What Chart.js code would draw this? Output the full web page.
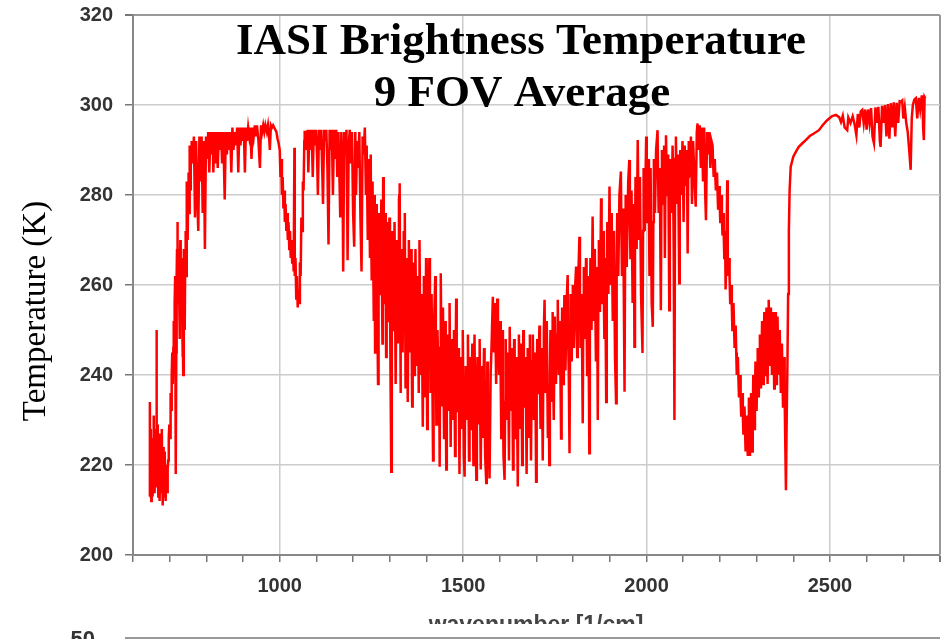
<!DOCTYPE html>
<html>
<head>
<meta charset="utf-8">
<script src="https://cdn.jsdelivr.net/npm/chart.js@4/dist/chart.umd.min.js"></script>
<style>
  html, body { margin: 0; padding: 0; background: #ffffff; }
  #wrap { width: 946px; height: 639px; position: relative; }
</style>
</head>
<body>
<div id="wrap"><canvas id="c" width="946" height="639"></canvas></div>
<script>
// ---- Data: [wavenumber (1/cm), brightness temperature (K)] ----
const co2Band15um = [
  [645,213],[646,234],[647,214],[648,224],[649,228],[650,212],[651,220],[652,226],[653,216],[654,213],
  [655,222],[656,231],[657,220],[658,214],[659,222],[660,228],[661,219],[662,215],[663,226],[664,250],
  [665,218],[666,224],[667,229],[668,220],[669,213],[670,222],[671,227],[672,218],[673,212],[674,220],
  [675,226],[676,219],[677,214],[678,222],[679,228],[680,218],[681,211],[682,219],[683,224],[684,218],
  [685,213],[686,219],[687,223],[688,216],[689,212],[690,217],[691,220],[692,216],[693,214],[694,217],
  [695,219],[696,221],[697,222],[698,226],[699,229],[700,227],[701,226],[702,232],[703,236],[704,234],
  [705,232],[706,240],[707,245],[708,241],[709,238],[710,246],[711,252],[712,249],[713,247],[714,256],
  [715,262],[716,240],[717,218],[718,245],[719,262],[720,268],[721,274],[722,264],[723,256],[724,262],
  [725,268],[726,257],[727,248],[728,260],[729,270],[730,260],[731,252],[732,259],[733,266],[734,254],
  [735,244],[736,250],[737,240],[738,256],[739,268],[740,258],[741,250],[742,262],[743,272],[744,266],
  [745,262],[746,274],[747,283],[748,276],[749,270],[750,278],[751,285],[752,280],[753,276],[754,284],
  [755,291],[756,286],[757,281],[758,286],[759,290]
];
const longwaveWindow = [
  [760,292],[763,287],[766,293],[769,275],[772,292],[775,280],[778,272],[781,293],[784,283],[787,293],
  [790,276],[793,292],[796,268],[799,293],[802,288],[805,294],[808,285],[811,294],[814,289],[817,294],
  [819,285],[822,294],[825,287],[828,294],[831,286],[834,294],[837,290],[840,294],[843,287],[846,294],
  [850,279],[853,294],[856,289],[859,294],[862,290],[865,294],[868,285],[871,295],[874,290],[877,294],
  [880,291],[884,295],[887,285],[890,295],[893,291],[896,295],[899,292],[902,295],[905,285],[908,295],
  [911,292],[914,295],[917,293],[920,295],[923,288],[926,295],[929,293],[932,295.5],[935,293],[938,295.5],
  [942,292],[946,286],[949,295.5],[952,294],[955,295.5],[958,294],[961,295.5],[965,294],[968,295.5],[971,293],
  [973,290],[976,295.5],[979,295],[982,295.5],[985,295],[988,294.5],[991,294],[994,292.5],[997,291.5],[1000,290]
];
const ozoneBand = [
  [1002,284],[1004,288],[1006,280],[1008,284],[1010,277],[1012,281],[1014,274],[1016,278],[1018,272],[1020,276],
  [1022,270],[1024,274],[1026,268],[1028,272],[1030,266],[1032,270],[1034,265],[1036,268],[1038,263],[1040,290.5],
  [1041,262],[1043,266],[1045,257],[1047,262],[1049,255],[1051,259],[1053,256],[1055,265],[1057,262],[1059,275],
  [1061,272],[1063,283],[1065,281],[1067,292],[1068,294]
];
const midWindow = [
  [1070,294],[1073,290],[1076,294.5],[1078,285],[1081,294.5],[1084,290],[1087,294.5],[1090,284],[1093,294.5],[1096,291],
  [1099,294.5],[1102,288],[1104,280],[1107,294.5],[1110,290],[1113,294.5],[1116,285],[1118,278],[1121,294.5],[1124,292],
  [1127,294.5],[1130,286],[1133,269],[1136,294.5],[1139,290],[1142,294.5],[1145,280],[1148,294.5],[1151,288],[1154,294.5],
  [1157,284],[1160,294],[1163,283],[1165,275],[1168,294],[1171,287],[1173,263],[1176,294],[1179,289],[1182,294.5],
  [1185,265.5],[1188,291],[1191,294.5],[1194,287],[1197,294],[1200,276],[1203,268.5],[1206,294],[1208,280],[1211,292],
  [1214,286],[1217,294],[1220,275],[1223,263],[1226,293],[1229,289],[1232,295]
];
const waterVaporBand = [
  [1235,280],[1236,286],[1237,291],[1238.5,280],[1240,270],[1241.5,279],[1243,288],[1244.5,277],[1246,266],[1247,278],
  [1248,289],[1249,275],[1250,261],[1251.5,272],[1253,283],[1254.5,268],[1256,252],[1257,266],[1258,280],[1259,262],
  [1260,245],[1261.5,262],[1263,278],[1264.5,266],[1266,255],[1267,246],[1268,238],[1269.5,258],[1271,276],[1272.5,266],
  [1274,258],[1275.5,268],[1277,279],[1278.5,262],[1280,247],[1281,266],[1282,284],[1283.5,270],[1285,256],[1286.5,266],
  [1288,276],[1289,260],[1290,244],[1291.5,260],[1293,274],[1294.5,262],[1296,252],[1297.5,264],[1299,275],[1300.5,258],
  [1302,240],[1303,230],[1304,218.5],[1305.5,250],[1307,272],[1308.5,260],[1310,250],[1311.5,262],[1313,274],[1314.5,256],
  [1316,238],[1317.5,254],[1319,270],[1320.5,258],[1322,247],[1323.5,263],[1325,279],[1326,280],[1327,282.6],[1328,260],
  [1329,236],[1330.5,252],[1332,268],[1333.5,256],[1335,245],[1336.5,258],[1338,272],[1339.5,266],[1341,276],[1342,256],
  [1343,237],[1344.5,252],[1346,266],[1347.5,250],[1349,234],[1350.5,252],[1352,270],[1353.5,258],[1355,245],[1356.5,256],
  [1358,268],[1359.5,250],[1361,233],[1362.5,250],[1364,265],[1365.5,252],[1367,240],[1368.5,254],[1370,268],[1371.5,255],
  [1373,242],[1374.5,252],[1376,262],[1377.5,249],[1379,236],[1380,252],[1381,270],[1382.5,255],[1384,240],[1385.5,249],
  [1387,258],[1388.5,243],[1390,228.5],[1391.5,246],[1393,262],[1394.5,248],[1396,235],[1397.5,250],[1399,266],[1400.5,247],
  [1402,228],[1403.5,246],[1405,255],[1408,266],[1409.5,250],[1411,236],[1412.5,246],[1414,258],[1416,240],[1418,221],
  [1419.5,242],[1421,252],[1424,262],[1425.5,246],[1427,229],[1428.5,243],[1430,250],[1431.5,244],[1433,235],[1434.5,242],
  [1436,219.6],[1437.5,246],[1439,262.6],[1440.5,248],[1442,233],[1443.5,246],[1445,255],[1446.5,240],[1448,226],[1449.5,244],
  [1451,252],[1452.5,236],[1454,219],[1455.5,238],[1457,249],[1458.5,242],[1460,232],[1461.5,246],[1463,256],[1464.5,240],
  [1466,224],[1467.5,240],[1469,248],[1470.5,238],[1472,230],[1473.5,242],[1475,250],[1476.5,238],[1478,222],[1479.5,244],
  [1481,257],[1482.5,242],[1484,232],[1485.5,240],[1487,246],[1488.5,234],[1490,218],[1491.5,236],[1493,244],[1494.5,236],
  [1496,228],[1497.5,240],[1499,250],[1500.5,236],[1502,222],[1504,217.4],[1505.5,234],[1507,242],[1508.5,236],[1510,230],
  [1511.5,240],[1513,249],[1514.5,236],[1516,221],[1517.5,236],[1519,244],[1520.5,236],[1522,228],[1523.5,238],[1525,247],
  [1526.5,234],[1528,220],[1529.5,238],[1531,249],[1532.5,236],[1534,226],[1536,216.7],[1537.5,234],[1539,244],[1540.5,236],
  [1542,229],[1543.5,240],[1545,248],[1546.5,232],[1548,219],[1549.5,234],[1551,242],[1552.5,234],[1554,226],[1555.5,238],
  [1557,246],[1558.5,234],[1560,222],[1563,216],[1564.5,232],[1566,243],[1567.5,236],[1569,228],[1572,217],[1575,240],
  [1578,248],[1581,257.4],[1584,245],[1587,256],[1590,238],[1593,257],[1595,250],[1598,240],[1601,252],[1602.5,238],
  [1604,226],[1605.5,240],[1607,250],[1608.5,236],[1610,222],[1613,216.7],[1614.5,234],[1616,248],[1617.5,238],[1619,230],
  [1620.5,238],[1622,245],[1623.5,234],[1625,221],[1627,250.7],[1628.5,240],[1630,232],[1631.5,240],[1633,246],[1634.5,234],
  [1636,219],[1637.5,236],[1639,248],[1640.5,236],[1642,226],[1643.5,238],[1645,244],[1647,232],[1649,215.2],[1650.5,236],
  [1652,249],[1653.5,238],[1655,228],[1656.5,240],[1658,247],[1659.5,234],[1661,220],[1662.5,238],[1664,250],[1665.5,240],
  [1667,233],[1668.5,240],[1670,244],[1671.5,232],[1673,218],[1674.5,236],[1676,246],[1677.5,236],[1679,226],[1680.5,240],
  [1682,249],[1683.5,236],[1685,221],[1686.5,236],[1688,243],[1690,249],[1691.5,238],[1693,230],[1694.5,238],[1696,245],
  [1697.5,232],[1699,216.3],[1700.5,236],[1702,248],[1703.5,240],[1705,236],[1706.5,244],[1708,251],[1709.5,238],[1711,228],
  [1712.5,238],[1714,246],[1715.5,234],[1717,221],[1718.5,240],[1720,250],[1722,256.7],[1723.5,244],[1725,236],[1726.5,244],
  [1728,252],[1729.5,238],[1731,226],[1733,236],[1735,220],[1736.5,240],[1738,250],[1739.5,242],[1741,234],[1742.5,244],
  [1744,254],[1745.5,240],[1747,230],[1748.5,242],[1750,253],[1751.5,244],[1753,238],[1754.5,244],[1756,249],[1758,256.7],
  [1759.5,246],[1761,240],[1762.5,246],[1764,252],[1765.5,238],[1767,225.9],[1768.5,244],[1770,255],[1771.5,246],[1773,238],
  [1774.5,248],[1776,257.8],[1777.5,248],[1779,241],[1780.5,248],[1782,256],[1785,262.2],[1786.5,248],[1788,240],[1790,222.6],
  [1791.5,246],[1793,258],[1794.5,250],[1796,243],[1797.5,252],[1799,260],[1800.5,250],[1802,246],[1803.5,252],[1805,259],
  [1808,264.1],[1809.5,252],[1811,244],[1812.5,252],[1814,262],[1817,270.7],[1818.5,256],[1820,246],[1821.5,252],[1823,258],
  [1826,229.3],[1827.5,252],[1829,264],[1830.5,256],[1832,248],[1833.5,256],[1835,266],[1836.5,252],[1838,240],[1839.5,252],
  [1841,262],[1844,222.6],[1845.5,252],[1847,266],[1848.5,258],[1850,250],[1853,275.2],[1854.5,262],[1856,252],[1857.5,260],
  [1859,268],[1860.5,254],[1862,243],[1863.5,254],[1865,264],[1867,230],[1868.5,256],[1870,270],[1871.5,262],[1873,254],
  [1876,279.3],[1877.5,266],[1879,256],[1880.5,264],[1882,272],[1883.5,258],[1885,248],[1887,266],[1890,234],[1891.5,260],
  [1893,274],[1894.5,266],[1896,258],[1899,281.9],[1900.5,270],[1902,260],[1903.5,268],[1905,276],[1906.5,262],[1908,252],
  [1909.5,262],[1911,272],[1912.5,258],[1914,244],[1917,233.7],[1918.5,262],[1920,276],[1921.5,268],[1923,262],[1926,280],
  [1930,285.2],[1931.5,272],[1933,262],[1934.5,270],[1936,277],[1938,258],[1940,236.3],[1941.5,266],[1943,280],[1944.5,272],
  [1946,264],[1950,283],[1953,287.8],[1954.5,276],[1956,266],[1957.5,274],[1959,281],[1960.5,268],[1962,256],[1965,278],
  [1967,246.3],[1968.5,270],[1970,284],[1971.5,276],[1973,268],[1976,292.2],[1977.5,280],[1979,270],[1980.5,278],[1982,284],
  [1985,258],[1989,244.9],[1990.5,272],[1992,286],[1993.5,280],[1995,272],[1999,293],[2000.5,282],[2002,274],[2003.5,282],
  [2005,288],[2006.5,276],[2008,262],[2011,286],[2014,256],[2017,250.7],[2018.5,274],[2020,288],[2021.5,282],[2023,276],
  [2026,290],[2030,294.4],[2031.5,284],[2033,276],[2034.5,282],[2036,286],[2039,254.4],[2040.5,278],[2042,290],[2043.5,284],
  [2045,278],[2048,291],[2050,266],[2051.5,282],[2053,293.3],[2054.5,286],[2056,280],[2057.5,286],[2059,289],[2062,254.4],
  [2063.5,278],[2065,288],[2066.5,282],[2068,276],[2071,291],[2072.5,282],[2074,268],[2076,230],[2078,288],[2080,293],
  [2083,278],[2084.5,284],[2086,289],[2089,260.4],[2090.5,280],[2092,290],[2095,280],[2098,292],[2101,274],[2102.5,284],
  [2104,291],[2107,282],[2110,290],[2112,267],[2113.5,284],[2115,292],[2118,284],[2121,293],[2124,278],[2127,292],
  [2130,285],[2134,277.4],[2137,294],[2139,295.9],[2142,290],[2145,295.5],[2148,286],[2151,295],[2154,283],[2157,295],
  [2160,280],[2162,274.4],[2165,294],[2168,289],[2171,294],[2174,286],[2177,292]
];
const co2Band43um = [
  [2180,291],[2181.5,287],[2183,284],[2184.5,286],[2186,288],[2187.5,284],[2189,281],[2190.5,283],[2192,285],[2193.5,281],
  [2195,277],[2196.5,280],[2198,282],[2199.5,278],[2201,274],[2202.5,277],[2204,280],[2205.5,275],[2207,271],[2208.5,273],
  [2210,276],[2211,271],[2212,266],[2213,269],[2214,272],[2215,265],[2216,259],[2217,264],[2218,270],[2220,283.3],
  [2221,270],[2222,262],[2223.5,264],[2225,266],[2226.5,261],[2228,256],[2229.5,258],[2231,260],[2232.5,255],[2234,250],
  [2235.5,253],[2237,256],[2238.5,251],[2240,246],[2241.5,248],[2243,251],[2244.5,245],[2246,240],[2247.5,242],[2249,244],
  [2250.5,239],[2252,235],[2253.5,237],[2255,240],[2256.5,235],[2258,231],[2259.5,233],[2261,236],[2262.5,231],[2264,227],
  [2265.5,230],[2267,233],[2268.5,228],[2270,223],[2271.5,227],[2273,231],[2274.5,226],[2276,222],[2277.5,228],[2279,235],
  [2280.5,228],[2282,222],[2283.5,229],[2285,236],[2286.5,229],[2288,223],[2289.5,231],[2291,240],[2292.5,234],[2294,228],
  [2295.5,235],[2297,243],[2298.5,237],[2300,232],[2301.5,239],[2303,246],[2304.5,240],[2306,235],[2307.5,242],[2309,249],
  [2310.5,243],[2312,237],[2313.5,244],[2315,252],[2316.5,245],[2318,238],[2319.5,246],[2321,254],[2322.5,247],[2324,240],
  [2325.5,247],[2327,255],[2328.5,246],[2330,238],[2331.5,247],[2333,256.7],[2334.5,249],[2336,242],[2337.5,248],[2339,255],
  [2340.5,247],[2342,240],[2343.5,247],[2345,254],[2346.5,245],[2348,237],[2349.5,245],[2351,254],[2352.5,246],[2354,238],
  [2355.5,245],[2357,253],[2358.5,246],[2360,240],[2361.5,245],[2363,250],[2364.5,243],[2366,236],[2367.5,241],[2369,247],
  [2370.5,240],[2372,233],[2373.5,238],[2375,244],[2376.5,235],[2378,226],[2380,214.4],[2382,230],[2384,242],[2386,258],
  [2388,272],[2390,281],[2393,286.3]
];
const shortwaveWindow = [
  [2400,288.5],[2407,289.6],[2415,290.7],[2425,291.5],[2434,292.2],[2445,293.1],[2455,293.6],[2470,294.4],[2480,295.5],[2490,296.4],
  [2498,297],[2505,297.5],[2516,297.8],[2525,297.3],[2530,296.2],[2535,297.6],[2540,295],[2547,294.4],[2550,297.2],[2556,296],
  [2562,297.5],[2567,295.8],[2572,293.3],[2576,298],[2580,295],[2584,298.6],[2588,298.9],[2592,296],[2596,299],[2600,294.5],
  [2604,299],[2608,296],[2612,299.3],[2616,293],[2620,291.5],[2624,299.5],[2628,296],[2632,299.6],[2636,292],[2638,290.7],
  [2642,299.8],[2646,296],[2650,300],[2654,293],[2658,300.2],[2662,292.5],[2666,300.4],[2670,295],[2674,300.6],[2678,293],
  [2682,300.5],[2686,296],[2690,300.8],[2693,300.7],[2697,301],[2700,297],[2704,299.5],[2708,296],[2712,294],[2716,290],
  [2720,285.6],[2723,297],[2726,300],[2730,301.2],[2734,301.5],[2738,297],[2742,301.6],[2746,299],[2750,301.9],[2752,301.9],
  [2754,295],[2756,292.2],[2758,301.8],[2760,301.5]
];
const yTicks = [200, 220, 240, 260, 280, 300, 320];
const xTickLabels = [1000, 1500, 2000, 2500];
const titleLines = ['IASI Brightness Temperature', '9 FOV Average'];
const yTitle = 'Temperature (K)';
const xTitle = 'wavenumber [1/cm]';

const spectrum = [].concat(co2Band15um, longwaveWindow, ozoneBand, midWindow,
  waterVaporBand, co2Band43um, shortwaveWindow).map(([x, y]) => ({x, y}));

const decorPlugin = {
  id: 'decor',
  afterDraw(chart) {
    const ctx = chart.ctx;
    ctx.save();
    // main title inside the plot
    ctx.fillStyle = '#000';
    ctx.textAlign = 'center';
    ctx.textBaseline = 'alphabetic';
    ctx.font = 'bold 45px "Liberation Serif", "Times New Roman", serif';
    ctx.fillText(titleLines[0], 521, 54);
    ctx.fillText(titleLines[1], 522, 106);
    // y axis title
    ctx.save();
    ctx.translate(36, 311);
    ctx.rotate(-Math.PI / 2);
    ctx.font = '33px "Liberation Serif", "Times New Roman", serif';
    ctx.textBaseline = 'middle';
    ctx.fillText(yTitle, 0, 0);
    ctx.restore();
    // x axis title (cut off at the bottom, as in the source)
    ctx.save();
    ctx.beginPath();
    ctx.rect(0, 600, 946, 24);
    ctx.clip();
    ctx.font = 'bold 23px "Liberation Sans", Arial, sans-serif';
    ctx.fillStyle = '#444';
    ctx.textBaseline = 'alphabetic';
    ctx.fillText(xTitle, 536, 632);
    ctx.restore();
    // top of the next panel
    ctx.font = 'bold 22px "Liberation Sans", Arial, sans-serif';
    ctx.fillStyle = '#333';
    ctx.textAlign = 'right';
    ctx.fillText('50', 95, 646);
    ctx.strokeStyle = '#999';
    ctx.lineWidth = 2;
    ctx.beginPath();
    ctx.moveTo(125, 638);
    ctx.lineTo(940, 638);
    ctx.stroke();
    ctx.restore();
  }
};

new Chart(document.getElementById('c'), {
  type: 'line',
  data: {
    datasets: [{
      data: spectrum,
      borderColor: '#ff0000',
      borderWidth: 2.5,
      pointRadius: 0,
      tension: 0,
      fill: false
    }]
  },
  options: {
    responsive: false,
    animation: false,
    events: [],
    layout: { padding: { top: 15, right: 6, left: 0, bottom: 0 } },
    plugins: { legend: { display: false }, tooltip: { enabled: false }, title: { display: false } },
    scales: {
      x: {
        type: 'linear', min: 600, max: 2800,
        afterBuildTicks: (s) => { s.ticks = []; for (let v = 600; v <= 2800; v += 100) s.ticks.push({value: v}); },
        ticks: {
          autoSkip: false, maxRotation: 0, padding: 12, color: '#333',
          font: { family: '"Liberation Sans", Arial, sans-serif', weight: 'bold', size: 20 },
          callback: (v) => xTickLabels.includes(v) ? String(v) : ''
        },
        grid: {
          color: (c) => (c.tick && (c.tick.value === 2800)) ? '#999' : (c.tick && xTickLabels.includes(c.tick.value) ? '#cccccc' : 'rgba(0,0,0,0)'),
          lineWidth: (c) => (c.tick && c.tick.value === 2800) ? 2 : 1.5,
          tickColor: '#777', tickLength: 7, drawTicks: true
        },
        border: { color: '#888', width: 2 },
        afterFit: (s) => { s.height = 84; s.paddingLeft = 0; s.paddingRight = 0; }
      },
      y: {
        min: 200, max: 320,
        afterBuildTicks: (s) => { s.ticks = yTicks.map(v => ({value: v})); },
        ticks: {
          padding: 12, color: '#333',
          font: { family: '"Liberation Sans", Arial, sans-serif', weight: 'bold', size: 20 }
        },
        grid: {
          color: (c) => (c.tick && c.tick.value === 320) ? '#999' : '#cccccc',
          lineWidth: (c) => (c.tick && c.tick.value === 320) ? 2 : 1.5,
          tickColor: '#777', tickLength: 8
        },
        border: { color: '#888', width: 2 },
        afterFit: (s) => { s.width = 133; s.paddingTop = 0; s.paddingBottom = 0; }
      }
    }
  },
  plugins: [decorPlugin]
});
</script>
</body>
</html>
